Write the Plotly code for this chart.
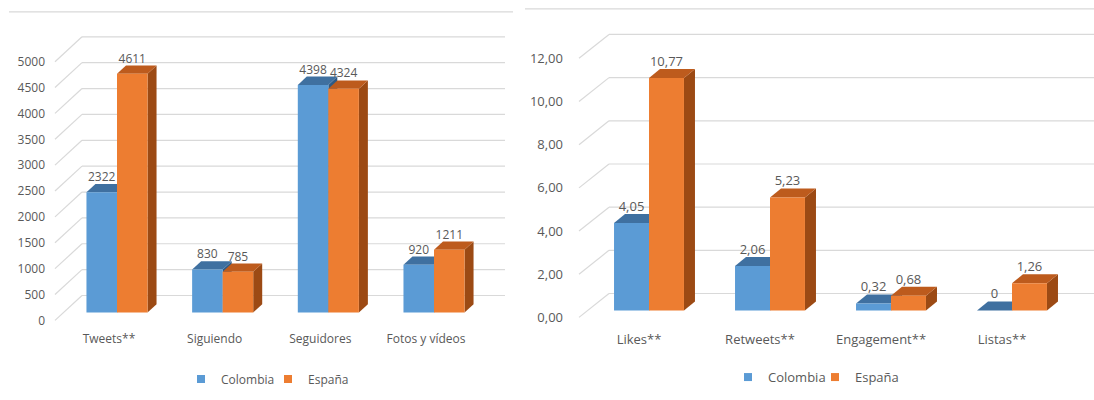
import plotly.graph_objects as go

# ---------------- data ----------------
cats_left = ["Tweets**", "Siguiendo", "Seguidores", "Fotos y vídeos"]
colombia_left = [2322, 830, 4398, 920]
espana_left = [4611, 785, 4324, 1211]
yticks_left = [0, 500, 1000, 1500, 2000, 2500, 3000, 3500, 4000, 4500, 5000]
yticklabels_left = ["0", "500", "1000", "1500", "2000", "2500", "3000", "3500", "4000", "4500", "5000"]
labels_col_left = ["2322", "830", "4398", "920"]
labels_esp_left = ["4611", "785", "4324", "1211"]

cats_right = ["Likes**", "Retweets**", "Engagement**", "Listas**"]
colombia_right = [4.05, 2.06, 0.32, 0]
espana_right = [10.77, 5.23, 0.68, 1.26]
yticks_right = [0, 2, 4, 6, 8, 10, 12]
yticklabels_right = ["0,00", "2,00", "4,00", "6,00", "8,00", "10,00", "12,00"]
labels_col_right = ["4,05", "2,06", "0,32", "0"]
labels_esp_right = ["10,77", "5,23", "0,68", "1,26"]

series_names = ["Colombia", "España"]

# ---------------- style ----------------
W, H = 1094, 400
FONT = "Open Sans"
TXT = "#595959"
GRID = "#D9D9D9"
FRONT = ["#5B9BD5", "#ED7D31"]
TOP = ["#3F70A0", "#BD5B1D"]
SIDE = ["#2E5A85", "#9C4A14"]
BARGAP = 0.422
BW = (1 - BARGAP) / 2

panels = [
    dict(ax="", cats=cats_left, vals=[colombia_left, espana_left],
         labs=[labels_col_left, labels_esp_left],
         ticks=yticks_left, ticktext=yticklabels_left,
         px0=50, px1=510, pyt=28, pyb=328, c0=117, step=105.67, base=314, ppu=0.052,
         lshift=8, rise=17, fx=55, bx=82, bend=505, dxp=9, dyp=8.3, xshift=-8,
         fs=12, ystand=4, legend="legend", legx=268, legy=381),
    dict(ax="2", cats=cats_right, vals=[colombia_right, espana_right],
         labs=[labels_col_right, labels_esp_right],
         ticks=yticks_right, ticktext=yticklabels_right,
         px0=572, px1=1094, pyt=28, pyb=328, c0=649, step=121, base=312, ppu=21.7,
         lshift=7, rise=17, fx=579, bx=609, bend=1094, dxp=11, dyp=9, xshift=-10,
         fs=13, ystand=8, legend="legend2", legx=815, legy=379),
]

fig = go.Figure()
shapes = []
layout = {}

for p in panels:
    xa, ya = "x" + p["ax"], "y" + p["ax"]
    xkey, ykey = "xaxis" + p["ax"], "yaxis" + p["ax"]
    tofx = lambda px, p=p: (px - p["c0"]) / p["step"]
    xr = [tofx(p["px0"]), tofx(p["px1"])]
    yr = [(p["base"] - p["pyb"]) / p["ppu"], (p["base"] - p["pyt"]) / p["ppu"]]
    dx = p["dxp"] / p["step"]
    dy = p["dyp"] / p["ppu"]
    rise = p["rise"] / p["ppu"]
    drop = p["lshift"] / p["ppu"]

    # perspective gridlines (back wall + floor diagonals)
    for v in p["ticks"]:
        shapes.append(dict(type="line", xref=xa, yref=ya, layer="below",
                           x0=tofx(p["bx"]), x1=tofx(p["bend"]), y0=v + rise, y1=v + rise,
                           line=dict(color=GRID, width=1.2)))
        shapes.append(dict(type="line", xref=xa, yref=ya, layer="below",
                           x0=tofx(p["fx"]), x1=tofx(p["bx"]), y0=v - drop, y1=v + rise,
                           line=dict(color=GRID, width=1.2)))

    # 3D faces (side + top) behind the front faces
    for s in range(2):
        off = -BW if s == 0 else 0.0
        for i, v in enumerate(p["vals"][s]):
            x0 = i + off
            x1 = x0 + BW
            side = f"M{x1},0 L{x1},{v} L{x1+dx},{v+dy} L{x1+dx},{dy} Z"
            top = f"M{x0},{v} L{x1},{v} L{x1+dx},{v+dy} L{x0+dx},{v+dy} Z"
            shapes.append(dict(type="path", path=side, xref=xa, yref=ya, layer="below",
                               fillcolor=SIDE[s], line=dict(width=0)))
            shapes.append(dict(type="path", path=top, xref=xa, yref=ya, layer="below",
                               fillcolor=TOP[s], line=dict(width=0)))

    # front faces
    for s in range(2):
        fig.add_trace(go.Bar(
            x=list(range(len(p["cats"]))), y=p["vals"][s], name=series_names[s],
            marker=dict(color=FRONT[s], line=dict(width=0)),
            xaxis=xa, yaxis=ya, showlegend=False, offsetgroup=str(s),
            hoverinfo="skip"))

    # legend entries (small square keys)
    for s in range(2):
        fig.add_trace(go.Scatter(
            x=[None], y=[None], mode="markers", name=series_names[s],
            marker=dict(symbol="square", size=8, color=FRONT[s]),
            xaxis=xa, yaxis=ya, legend=p["legend"], hoverinfo="skip"))

    # data labels
    for s in range(2):
        off = -BW / 2 if s == 0 else BW / 2
        fig.add_trace(go.Scatter(
            x=[i + off for i in range(len(p["cats"]))],
            y=[v + dy for v in p["vals"][s]],
            text=p["labs"][s], mode="text", textposition="top center",
            textfont=dict(family=FONT, size=p["fs"], color=TXT),
            xaxis=xa, yaxis=ya, showlegend=False, hoverinfo="skip", cliponaxis=False))

    layout[xkey] = dict(domain=[p["px0"] / W, p["px1"] / W], range=xr, anchor=ya,
                        tickvals=list(range(len(p["cats"]))), ticktext=p["cats"],
                        showgrid=False, zeroline=False, showline=False, ticks="",
                        ticklabelshift=p["xshift"], ticklabelstandoff=4,
                        tickfont=dict(family=FONT, size=p["fs"], color=TXT), fixedrange=True)
    layout[ykey] = dict(domain=[1 - p["pyb"] / H, 1 - p["pyt"] / H], range=yr, anchor=xa,
                        tickvals=p["ticks"], ticktext=p["ticktext"],
                        showgrid=False, zeroline=False, showline=False, ticks="",
                        ticklabelshift=p["lshift"], ticklabelstandoff=p["ystand"],
                        tickfont=dict(family=FONT, size=p["fs"], color=TXT), fixedrange=True)
    layout[p["legend"]] = dict(orientation="h", x=p["legx"] / W, y=1 - p["legy"] / H,
                               xanchor="center", yanchor="middle", bgcolor="rgba(0,0,0,0)",
                               entrywidth=42, itemwidth=30,
                               font=dict(family=FONT, size=p["fs"], color=TXT),
                               itemclick=False, itemdoubleclick=False)

# chart frame top lines
shapes.append(dict(type="line", xref="paper", yref="paper", x0=9 / W, x1=513 / W,
                   y0=1 - 12 / H, y1=1 - 12 / H, line=dict(color=GRID, width=1.2)))
shapes.append(dict(type="line", xref="paper", yref="paper", x0=525 / W, x1=1,
                   y0=1 - 9 / H, y1=1 - 9 / H, line=dict(color=GRID, width=1.2)))

fig.update_layout(
    width=W, height=H, margin=dict(l=0, r=0, t=0, b=0),
    paper_bgcolor="white", plot_bgcolor="rgba(0,0,0,0)",
    barmode="group", bargap=BARGAP, bargroupgap=0,
    shapes=shapes, font=dict(family=FONT, color=TXT),
    **layout)

fig.write_html("out.html")
